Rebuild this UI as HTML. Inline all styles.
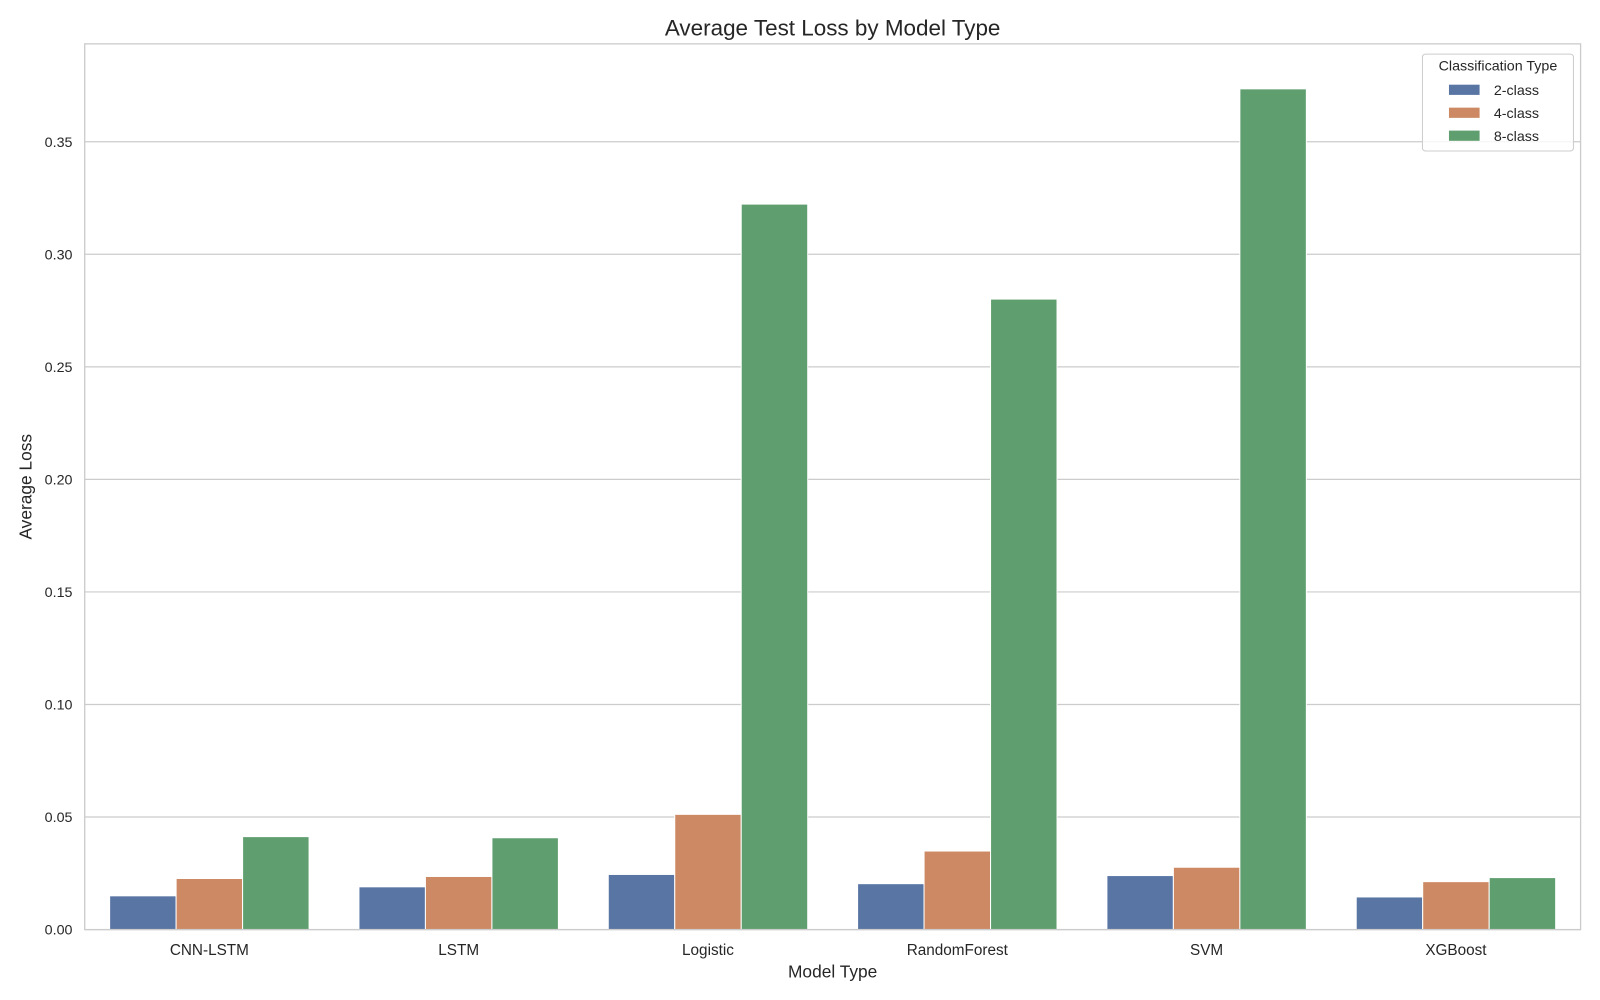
<!DOCTYPE html>
<html><head><meta charset="utf-8"><style>
html,body{margin:0;padding:0;background:#fff;}
svg{display:block;font-family:"Liberation Sans","DejaVu Sans",sans-serif;}
</style></head><body>
<svg id="chart" width="1600" height="1000" viewBox="0 0 1600 1000">
<rect x="0" y="0" width="1600" height="1000" fill="#fff"/>
<g transform="scale(1.0204)">
<text x="816" y="35" font-size="22" text-anchor="middle" fill="#262626">Average Test Loss by Model Type</text>
<g id="grid"></g>
<g id="bars"></g>
<rect x="83" y="43" width="1466" height="868" fill="none" stroke="#cccccc" stroke-width="1.3"/>
<g id="yticks"></g>
<g id="xticks"></g>
<text x="816" y="958" font-size="17" text-anchor="middle" fill="#262626">Model Type</text>
<text transform="translate(31,477) rotate(-90)" font-size="17" text-anchor="middle" fill="#262626">Average Loss</text>
<g>
<rect x="1394" y="53" width="148" height="95" rx="3" fill="#fff" fill-opacity="0.8" stroke="#cccccc"/>
<text x="1468" y="69" font-size="14" text-anchor="middle" fill="#262626">Classification Type</text>
<g id="legend-entries"></g>
</g>
</g>
</svg>
<script>
const categories = ["CNN-LSTM","LSTM","Logistic","RandomForest","SVM","XGBoost"];
const seriesNames = ["2-class","4-class","8-class"];
const series2 = [0.0150,0.0190,0.0245,0.0204,0.0240,0.0145];
const series4 = [0.0227,0.0236,0.0512,0.0349,0.0277,0.0213];
const series8 = [0.0413,0.0408,0.3223,0.2801,0.3735,0.0231];
const yTicks = [0,0.05,0.10,0.15,0.20,0.25,0.30,0.35];
const yTickLabels = ["0.00","0.05","0.10","0.15","0.20","0.25","0.30","0.35"];
const colors = ["#5975a4","#cc8963","#5f9e6e"];

const NS="http://www.w3.org/2000/svg";
const L=83,R=1549,T=43,B=911,yMax=(B-T)/2206;
const y=v=>B-(v/yMax)*(B-T);
const band=(R-L)/categories.length;
const xc=i=>L+band*(i+0.5);
function mk(tag,attrs,parent){const e=document.createElementNS(NS,tag);for(const k in attrs)e.setAttribute(k,attrs[k]);parent.appendChild(e);return e;}
const grid=document.getElementById('grid'),yt=document.getElementById('yticks'),xt=document.getElementById('xticks'),bars=document.getElementById('bars');
yTicks.forEach((v,i)=>{
  const g=mk('line',{x1:L,x2:R,y1:y(v),y2:y(v),stroke:'#cccccc','stroke-width':1.2},grid);
  
  
  const t=mk('text',{x:L-12,y:y(v)+5,'font-size':14,'text-anchor':'end',fill:'#262626'},yt);
  t.textContent=yTickLabels[i];
  
  
});
categories.forEach((c,i)=>{
  const t=mk('text',{x:xc(i),y:936,'font-size':15,'text-anchor':'middle',fill:'#262626'},xt);
  t.textContent=c;
  
  
});
const all=[series2,series4,series8];
const bw=band*0.8/3;
all.forEach((s,j)=>{
  s.forEach((v,i)=>{
    const x0=xc(i)-band*0.4+j*bw;
    const r=mk('rect',{x:x0,y:y(v),width:bw,height:B-y(v),fill:colors[j],stroke:'#fff','stroke-width':1},bars);
    
    
  });
});
const le=document.getElementById('legend-entries');
seriesNames.forEach((n,j)=>{
  const yy=88+j*22.5;
  const r=mk('rect',{x:1420,y:yy-5,width:30,height:10,fill:colors[j]},le);
  
  
  const t=mk('text',{x:1464,y:yy+5,'font-size':14,fill:'#262626'},le);
  t.textContent=n;
  
  
});
</script>
</body></html>
